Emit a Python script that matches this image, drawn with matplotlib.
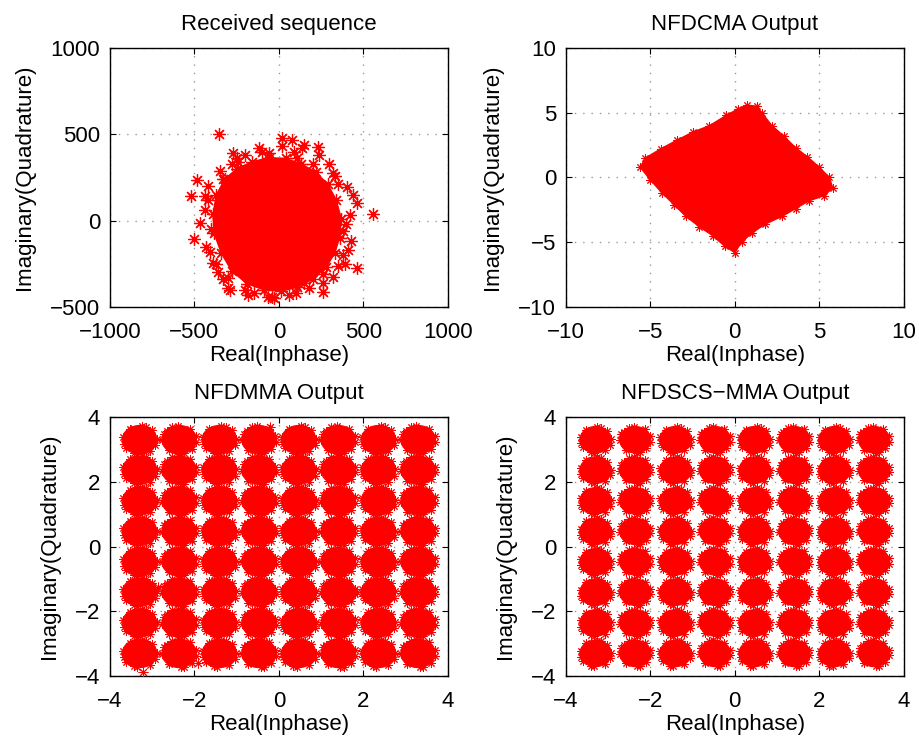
import numpy as np
import matplotlib
matplotlib.use('Agg')
import matplotlib.pyplot as plt
from matplotlib.patches import Polygon, Ellipse

plt.rcParams['font.family'] = ['Liberation Sans', 'DejaVu Sans']
plt.rcParams['font.size'] = 16

# --- Received sequence: dense core outline + scattered edge samples ---
rx_core_x = [-390, -370, -320, -250, -160, -60, 40, 130, 220, 290, 340, 370, 360, 330, 280, 200, 110, 10, -90, -190, -280, -340, -385]
rx_core_y = [40, 150, 240, 300, 340, 365, 360, 330, 280, 210, 120, 10, -100, -190, -270, -340, -385, -410, -400, -365, -290, -190, -70]
rx_edge_x = [-355, 556, 461, -503, -521, -438, -485, -65, 260, 231, 18, -272, 461, 438, 402, 320, 408, 320, -290, -390, -467,
             -280, -420, -400, -370, -300, -200, 100, 380, 430, 420, 330, 150, 80, -100, -200, -250, -330, -440, -360,
             60, 180, 260, 350, -150, -40, 140, 300, 380, -330, -410, 240, -230, 20,
             -430, -350, -240, -120, 90, 200, 350, 400, 390, 260, 150, -30, -180, -330, -420, 110, -60, 300, -300]
rx_edge_y = [502, 39, -274, -106, 143, 143, 236, -442, -413, 427, 479, 392, 102, 149, 195, 276, -170, -326, -401, -245, -13,
             330, 200, -50, -250, -390, -400, -420, -200, -120, 30, 260, 440, 470, 400, 380, 360, 240, 60, -300,
             -430, -390, -360, -260, -420, -440, 420, 330, -60, 100, -180, 380, 300, 430,
             -150, 290, 340, 420, 400, 330, 210, -20, -250, -310, -360, -450, -430, -340, 120, 360, 390, -120, -330]

# --- NFDCMA output: rotated-square cloud ---
cma_x = [-5.6, -5.3, -4.4, -3.4, -2.5, -1.5, -0.5, 0.2, 0.7, 1.3, 1.6, 2.2, 2.9, 3.6, 4.3, 5.0, 5.6, 5.8, 5.3, 4.4,
         3.6, 2.8, 1.8, 1.0, 0.4, 0.0, -0.6, -1.3, -2.1, -2.9, -3.6, -4.3, -5.0]
cma_y = [0.8, 1.5, 2.2, 2.9, 3.5, 4.0, 4.8, 5.3, 5.6, 5.5, 5.0, 4.0, 3.2, 2.3, 1.6, 0.8, 0.0, -0.8, -1.4, -1.8,
         -2.4, -3.0, -3.6, -4.3, -5.0, -5.8, -5.3, -4.5, -3.8, -3.0, -2.1, -1.2, -0.2]

# --- 64-QAM equaliser outputs: cluster levels and cloud sizes ---
qam_levels = [-3.3, -2.36, -1.41, -0.47, 0.47, 1.41, 2.36, 3.3]
mma_size = (0.82, 0.88)
scs_size = (0.74, 0.82)
mma_stray_x = [-0.21, -3.22, -2.86, -1.92, 1.85, -3.5]
mma_stray_y = [3.69, -3.88, -1.25, -3.6, -1.4, 3.6]
fuzz_a = [(0.98, 0.05), (0.72, 0.65), (0.12, 0.97), (-0.58, 0.76), (-0.95, 0.2), (-0.78, -0.58), (-0.12, -0.98),
          (0.58, -0.8), (0.92, -0.38), (0.38, 0.9), (-0.9, -0.28), (-0.32, -0.92)]
fuzz_b = [(0.95, 0.25), (0.6, 0.78), (-0.1, 0.98), (-0.72, 0.62), (-0.98, -0.05), (-0.62, -0.75), (0.1, -0.97),
          (0.72, -0.65), (0.96, -0.15), (0.3, -0.94), (-0.4, 0.9), (-0.88, 0.42)]

red = (1, 0, 0)
star = (8, 2, 0)


def style_axes(ax, title):
    ax.set_title(title, fontsize=16, pad=13)
    ax.set_xlabel('Real(Inphase)', fontsize=16, labelpad=1)
    ax.set_ylabel('Imaginary(Quadrature)', fontsize=16, labelpad=11)
    ax.grid(True, linestyle=(0, (1, 5)), color='0.6', linewidth=1.0)
    ax.set_axisbelow(True)
    ax.tick_params(direction='in', top=True, right=True, length=4, labelsize=16)
    ax.tick_params(axis='x', pad=11)
    ax.tick_params(axis='y', pad=7)
    for s in ax.spines.values():
        s.set_linewidth(1.0)


def draw_qam(ax, size, stray_x=None, stray_y=None):
    k = 0
    for yc in qam_levels:
        for xc in qam_levels:
            ax.add_patch(Ellipse((xc, yc), size[0], size[1], facecolor=red, edgecolor=red, lw=0.8, zorder=3))
            fz = fuzz_a if k % 2 == 0 else fuzz_b
            fx = [xc + dx * size[0] / 2 for dx, dy in fz]
            fy = [yc + dy * size[1] / 2 for dx, dy in fz]
            ax.plot(fx, fy, linestyle='none', marker=star, ms=6, mec=red, mew=0.7, zorder=3)
            k += 1
    if stray_x is not None:
        ax.plot(stray_x, stray_y, linestyle='none', marker=star, ms=7, mec=red, mew=0.7, zorder=3)
    ax.set_xlim(-4, 4)
    ax.set_ylim(-4, 4)
    ax.set_xticks([-4, -2, 0, 2, 4])
    ax.set_yticks([-4, -2, 0, 2, 4])


fig = plt.figure(figsize=(9.2, 7.42), dpi=100)
ax1 = fig.add_axes([0.1196, 0.5863, 0.367, 0.349])
ax2 = fig.add_axes([0.6152, 0.5863, 0.367, 0.349])
ax3 = fig.add_axes([0.1196, 0.0889, 0.367, 0.349])
ax4 = fig.add_axes([0.6152, 0.0889, 0.367, 0.349])

# received sequence
ax1.add_patch(Polygon(np.column_stack([rx_core_x, rx_core_y]), closed=True, facecolor=red, edgecolor=red, zorder=3))
ax1.plot(rx_core_x, rx_core_y, linestyle='none', marker=star, ms=9, mec=red, mew=0.9, zorder=3)
ax1.plot(rx_edge_x, rx_edge_y, linestyle='none', marker=star, ms=9, mec=red, mew=0.9, zorder=3)
ax1.set_xlim(-1000, 1000)
ax1.set_ylim(-500, 1000)
ax1.set_xticks([-1000, -500, 0, 500, 1000])
ax1.set_yticks([-500, 0, 500, 1000])
style_axes(ax1, 'Received sequence')

# NFDCMA
ax2.add_patch(Polygon(np.column_stack([cma_x, cma_y]), closed=True, facecolor=red, edgecolor=red, zorder=3))
ax2.plot(cma_x, cma_y, linestyle='none', marker=star, ms=6, mec=red, mew=0.7, zorder=3)
ax2.set_xlim(-10, 10)
ax2.set_ylim(-10, 10)
ax2.set_xticks([-10, -5, 0, 5, 10])
ax2.set_yticks([-10, -5, 0, 5, 10])
style_axes(ax2, 'NFDCMA Output')

draw_qam(ax3, mma_size, mma_stray_x, mma_stray_y)
style_axes(ax3, 'NFDMMA Output')

draw_qam(ax4, scs_size)
style_axes(ax4, 'NFDSCS\u2212MMA Output')

fig.savefig('out.png', dpi=100)
